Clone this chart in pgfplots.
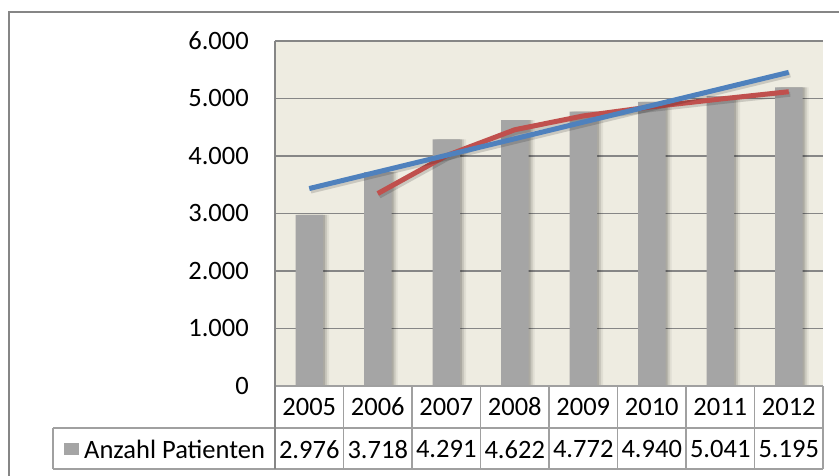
\documentclass[border=0pt]{standalone}
\usepackage{pgfplots}
\pgfplotsset{compat=1.18}
\usepackage{fontspec}
\setmainfont{Carlito}
\definecolor{bg}{HTML}{EEECE1}
\definecolor{bargray}{HTML}{A5A5A5}
\definecolor{gridgray}{HTML}{868686}
\definecolor{tblgray}{HTML}{A0A0A0}
\definecolor{tblue}{HTML}{4F81BD}
\definecolor{tred}{HTML}{C0504D}
\pgfplotstableread{
x y
1 2976
2 3718
3 4291
4 4622
5 4772
6 4940
7 5041
8 5195
}\patienten
\pgfplotstableread{
x y
2 3347
3 4004.5
4 4456.5
5 4697
6 4856
7 4990.5
8 5118
}\movavg
\pgfplotstableread{
x y
1 3434
8 5455
}\trend
\begin{document}
\begin{tikzpicture}[x=1pt,y=1pt]
\useasboundingbox (0,0) rectangle (839,475);
\draw[gridgray, line width=1.5pt] (9,-10) -- (9,463) -- (850,463);
\begin{axis}[
  at={(275pt,89pt)}, anchor=south west,
  scale only axis, width=548pt, height=345pt,
  xmin=0.5, xmax=8.5, ymin=0, ymax=6000,
  xtick={1,2,3,4,5,6,7,8},
  xticklabels={2005,2006,2007,2008,2009,2010,2011,2012},
  ytick={0,1000,2000,3000,4000,5000,6000},
  scaled y ticks=false,
  /pgf/number format/1000 sep={.},
  /pgf/number format/assume math mode=true,
  ymajorgrids, grid style={gridgray, line width=1.2pt},
  major tick length=0pt,
  axis background/.style={fill=bg},
  axis line style={draw=none},
  tick label style={font=\fontsize{26.5}{30}\selectfont},
  yticklabel style={anchor=east, inner sep=0pt, xshift=-26pt},
  xticklabel style={anchor=center, inner sep=0pt, yshift=-21pt},
  clip=false,
]
\addplot[ybar, bar width=27.5pt, bar shift=6pt, fill=black, fill opacity=0.06, draw=none] table[x=x,y=y] {\patienten};
\addplot[ybar, bar width=27.5pt, bar shift=4pt, fill=black, fill opacity=0.10, draw=none] table[x=x,y=y] {\patienten};
\addplot[ybar, bar width=27.5pt, bar shift=2pt, fill=black, fill opacity=0.14, draw=none] table[x=x,y=y] {\patienten};
\addplot[ybar, bar width=27.5pt, bar shift=0pt, fill=bargray, draw=none] table[x=x,y=y] {\patienten};
\addplot[black, opacity=0.15, line width=5pt, xshift=1.5pt, yshift=-2.5pt] table[x=x,y=y] {\movavg};
\addplot[tred, line width=5pt] table[x=x,y=y] {\movavg};
\addplot[black, opacity=0.15, line width=5pt, xshift=1.5pt, yshift=-2.5pt] table[x=x,y=y] {\trend};
\addplot[tblue, line width=5pt] table[x=x,y=y] {\trend};
\node[font=\fontsize{26.5}{30}\selectfont, yshift=-63.5pt] at (axis cs:1,0) {2.976};
\node[font=\fontsize{26.5}{30}\selectfont, yshift=-63.5pt] at (axis cs:2,0) {3.718};
\node[font=\fontsize{26.5}{30}\selectfont, yshift=-63.5pt] at (axis cs:3,0) {4.291};
\node[font=\fontsize{26.5}{30}\selectfont, yshift=-63.5pt] at (axis cs:4,0) {4.622};
\node[font=\fontsize{26.5}{30}\selectfont, yshift=-63.5pt] at (axis cs:5,0) {4.772};
\node[font=\fontsize{26.5}{30}\selectfont, yshift=-63.5pt] at (axis cs:6,0) {4.940};
\node[font=\fontsize{26.5}{30}\selectfont, yshift=-63.5pt] at (axis cs:7,0) {5.041};
\node[font=\fontsize{26.5}{30}\selectfont, yshift=-63.5pt] at (axis cs:8,0) {5.195};
\end{axis}
% table grid
\draw[tblgray, line width=1.2pt] (275,89) -- (823,89);
\draw[tblgray, line width=1.2pt] (53,47) -- (823,47);
\draw[tblgray, line width=1.2pt] (53,6) -- (823,6);
\draw[tblgray, line width=1.2pt] (53,47) -- (53,6);
\foreach \i in {1,...,8} {
  \draw[tblgray, line width=1.2pt] ({275+68.5*\i},89) -- ({275+68.5*\i},6);
}
\draw[gridgray, line width=1.2pt] (275,434) -- (275,6);
\fill[bargray] (64,20) rectangle (78.5,32);
\node[anchor=west, inner sep=0pt, font=\fontsize{26.5}{30}\selectfont] at (84,25.5) {Anzahl Patienten};
\end{tikzpicture}
\end{document}
